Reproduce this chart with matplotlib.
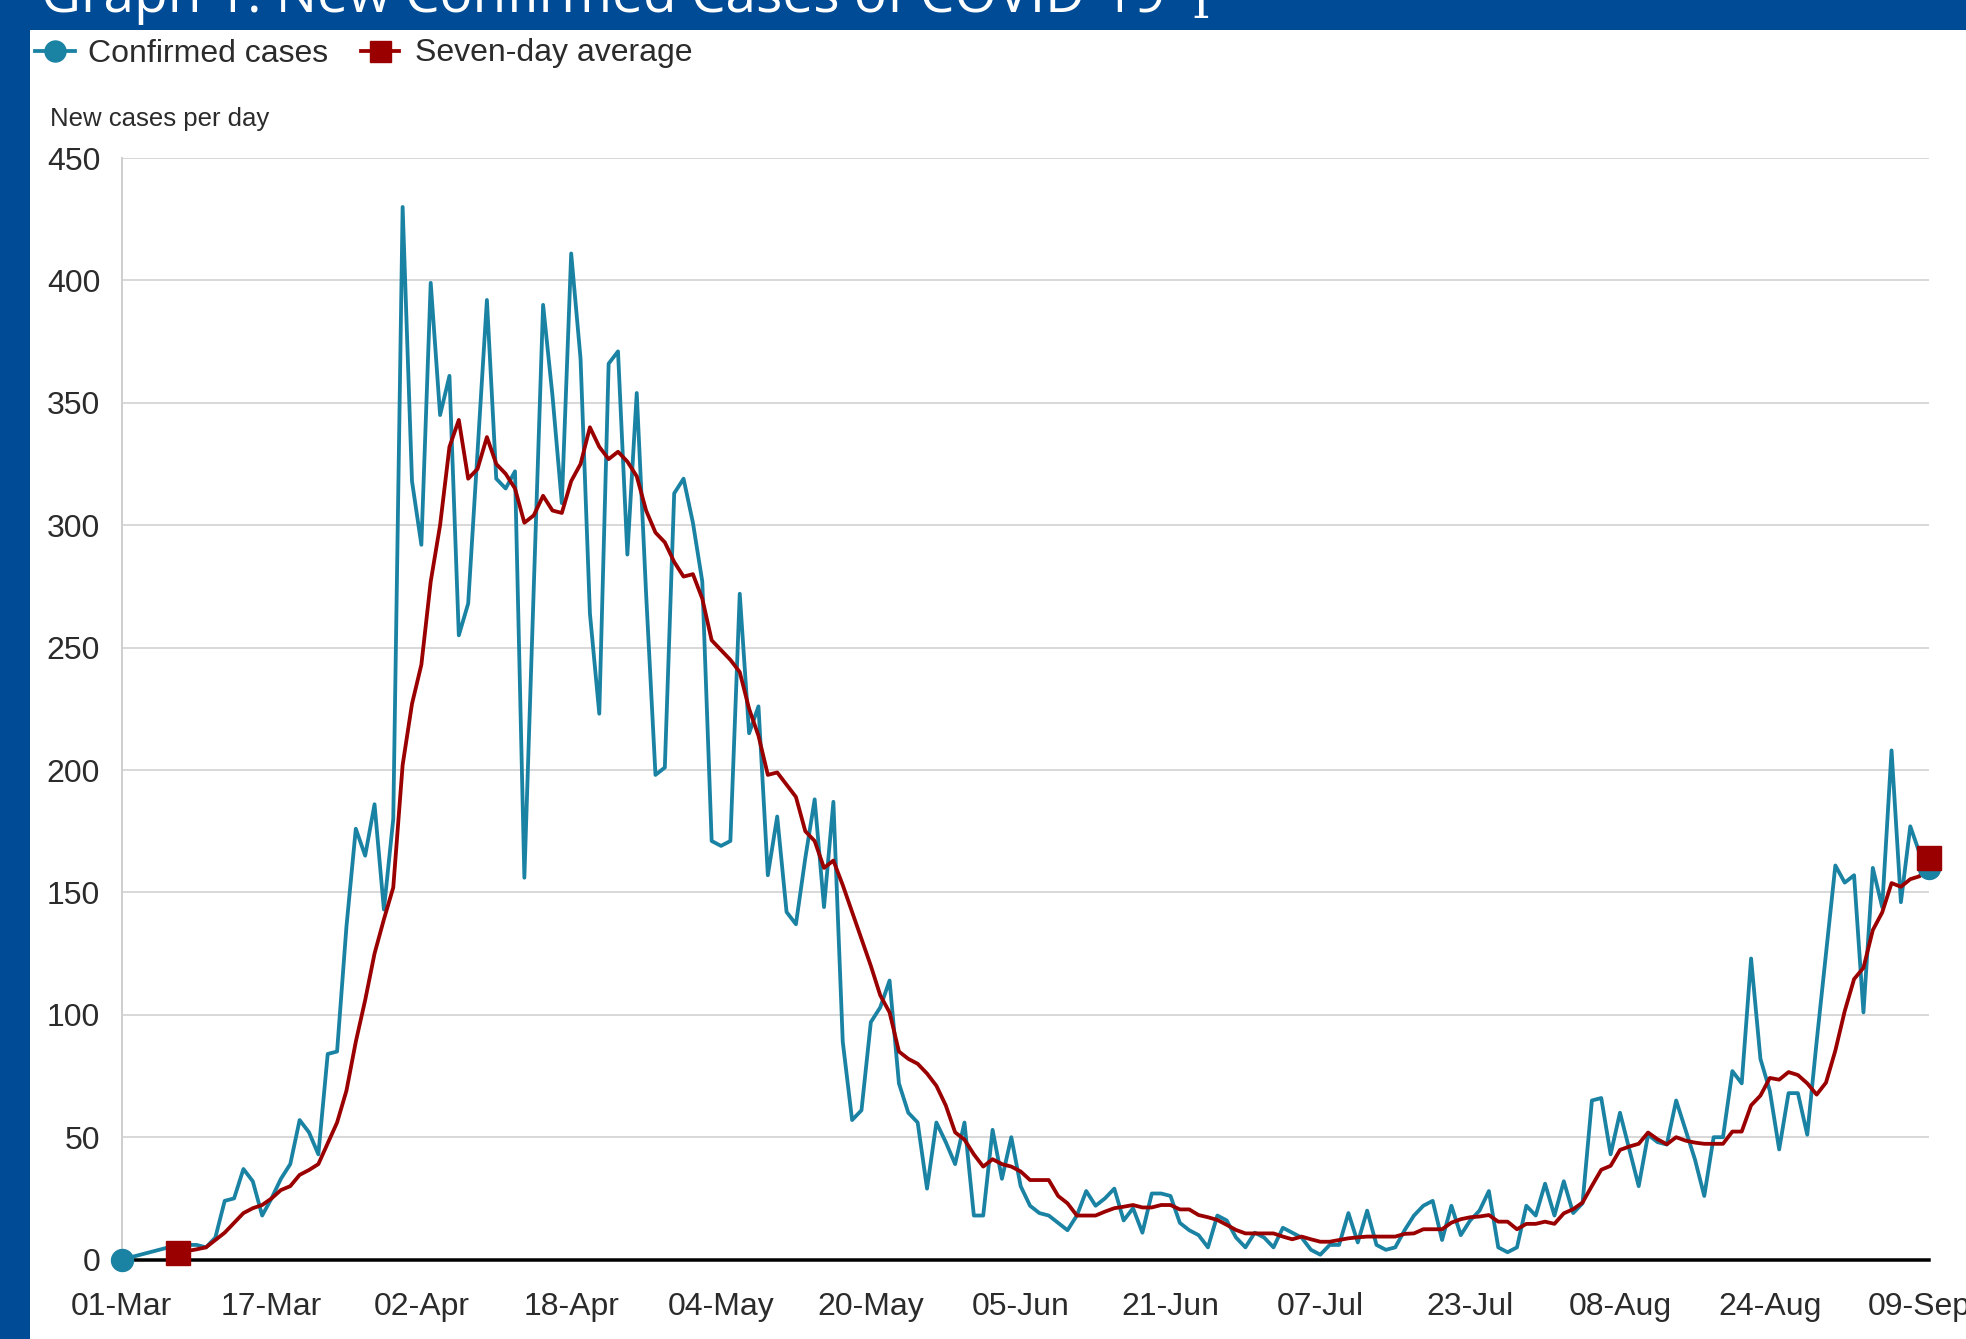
import matplotlib
matplotlib.use("Agg")
import matplotlib.pyplot as plt
import numpy as np
import pandas as pd
from matplotlib.lines import Line2D
from matplotlib.patches import Rectangle

# ---------------- data ----------------
start_date = "2020-03-01"
tick_labels = ["01-Mar", "17-Mar", "02-Apr", "18-Apr", "04-May", "20-May", "05-Jun",
               "21-Jun", "07-Jul", "23-Jul", "08-Aug", "24-Aug", "09-Sep"]

confirmed = [
    0, 1, 2, 3, 4, 5, 5, 6, 6, 5,
    9, 24, 25, 37, 32, 18, 25, 33, 39, 57,
    52, 43, 84, 85, 136, 176, 165, 186, 143, 180,
    430, 318, 292, 399, 345, 361, 255, 268, 330, 392,
    319, 315, 322, 156, 274, 390, 353, 309, 411, 368,
    264, 223, 366, 371, 288, 354, 272, 198, 201, 313,
    319, 301, 277, 171, 169, 171, 272, 215, 226, 157,
    181, 142, 137, 164, 188, 144, 187, 89, 57, 61,
    97, 103, 114, 72, 60, 56, 29, 56, 48, 39,
    56, 18, 18, 53, 33, 50, 30, 22, 19, 18,
    15, 12, 18, 28, 22, 25, 29, 16, 21, 11,
    27, 27, 26, 15, 12, 10, 5, 18, 16, 9,
    5, 11, 9, 5, 13, 11, 9, 4, 2, 6,
    6, 19, 7, 20, 6, 4, 5, 12, 18, 22,
    24, 8, 22, 10, 16, 20, 28, 5, 3, 5,
    22, 18, 31, 18, 32, 19, 23, 65, 66, 43,
    60, 45, 30, 51, 48, 47, 65, 53, 41, 26,
    50, 50, 77, 72, 123, 82, 69, 45, 68, 68,
    51, 89, 125, 161, 154, 157, 101, 160, 144, 208,
    146, 177, 166, 160,
]

seven_day_avg = [None] * 6 + [
    2.6, 3.5, 4.2, 5,
    8, 11, 15, 19, 21, 22.3, 25, 28.4, 30, 34.6,
    36.6, 39, 47.5, 56, 69, 89, 106, 125, 139, 152,
    202, 227, 243, 277, 300, 332, 343, 319, 323, 336,
    325, 321, 315, 301, 304, 312, 306, 305, 318, 325,
    340, 332, 327, 330, 326, 320, 306, 297, 293, 285,
    279, 280, 270, 253, 249, 245, 240, 225, 214, 198,
    199, 194, 189, 175, 171, 160, 163, 153, 142, 131,
    120, 108, 101, 85, 82, 80, 76, 71, 63, 52,
    49, 43, 38, 41, 39, 38, 36, 32.5, 32.5, 32.5,
    26, 23, 18, 18, 18, 19.6, 21, 21.6, 22.3, 21.3,
    21.3, 22.3, 22.3, 20.5, 20.5, 18.2, 17.3, 16.2, 14.2, 12.1,
    10.7, 10.7, 10.7, 10.7, 9.4, 8.3, 9.4, 8.3, 7.3, 7.3,
    8, 8.7, 9.1, 9.4, 9.4, 9.4, 9.4, 10.5, 10.7, 12.4,
    12.4, 12.4, 15.1, 16.5, 17.3, 17.6, 18.2, 15.5, 15.5, 12.4,
    14.6, 14.6, 15.5, 14.6, 18.9, 20.6, 23.3, 30.1, 36.7, 38.3,
    44.8, 46.2, 47.3, 51.9, 49.2, 47.1, 50, 48.6, 47.8, 47.3,
    47.3, 47.3, 52.3, 52.3, 63, 67, 74.2, 73.5, 76.6, 75.4,
    72, 67.4, 72.3, 85.4, 101.5, 114.6, 119.2, 134.6, 141.8, 153.8,
    152.3, 155.4, 156.6, 164,
]

title_text = "Graph 1: New Confirmed Cases of COVID-19"
legend_labels = ["Confirmed cases", "Seven-day average"]
y_label = "New cases per day"
y_ticks = [0, 50, 100, 150, 200, 250, 300, 350, 400, 450]

# ---------------- styling ----------------
W, H = 1966, 1339
DPI = 100
FRAME = "#004b96"
BLUE = "#1a82a3"
RED = "#9b0000"
GRID = "#d9d9d9"
TXT = "#2b2b2b"
FONT = "Liberation Sans"
LW = 3.8

def fx(px):
    return px / W

def fy(py):
    return 1 - py / H

def pt(px):
    return px * 72.0 / DPI

n = len(confirmed)
dates = pd.date_range(start_date, periods=n, freq="D")
x = np.arange(n)
labels_all = list(dates.strftime("%d-%b"))
tick_pos = [labels_all.index(t) for t in tick_labels]
avg = np.array([np.nan if v is None else v for v in seven_day_avg], dtype=float)

fig = plt.figure(figsize=(W / DPI, H / DPI), dpi=DPI, facecolor="white")

# blue frame (left bar + top bar)
fig.add_artist(Rectangle((0, 0), fx(30), 1, transform=fig.transFigure,
                         facecolor=FRAME, edgecolor="none", zorder=0))
fig.add_artist(Rectangle((0, fy(30)), 1, fy(0) - fy(30), transform=fig.transFigure,
                         facecolor=FRAME, edgecolor="none", zorder=0))

# title (partly cut off at the top), fit to measured width
title = fig.text(fx(41), fy(12), title_text, color="white", fontsize=34,
                 family="Open Sans", ha="left", va="baseline")
fig.canvas.draw()
r = fig.canvas.get_renderer()
wpx = title.get_window_extent(r).width
title.set_fontsize(34 * (1126.0 / wpx))
fig.text(fx(1201), fy(18), "I", color="white", fontsize=34, family="DejaVu Serif",
         ha="center", va="baseline")

# axes
x0_px, x1_px = 121.7, 1929.0
y0_px, y1_px = 1259.6, 158.0
ax = fig.add_axes([fx(x0_px), fy(y0_px), fx(x1_px) - fx(x0_px), fy(y1_px) - fy(y0_px)])
ax.set_facecolor("white")
ax.set_xlim(0, n - 1)
ax.set_ylim(0, 450)

for yv in y_ticks[1:]:
    ax.axhline(yv, color=GRID, lw=pt(2), zorder=1)

ax.plot(x, confirmed, color=BLUE, lw=pt(LW), zorder=3)
ax.plot(x, avg, color=RED, lw=pt(LW), zorder=4)

# end markers
ax.plot([x[0], x[-1]], [confirmed[0], confirmed[-1]], ls="none", marker="o",
        ms=pt(22), color=BLUE, mec=BLUE, zorder=5, clip_on=False)
first_avg = int(np.where(~np.isnan(avg))[0][0])
ax.plot([x[first_avg], x[-1]], [avg[first_avg], avg[-1]], ls="none", marker="s",
        ms=pt(24), color=RED, mec=RED, zorder=6, clip_on=False)

for s in ["top", "right"]:
    ax.spines[s].set_visible(False)
ax.spines["left"].set_color("#cfcfcf")
ax.spines["left"].set_linewidth(pt(2))
ax.spines["bottom"].set_color("black")
ax.spines["bottom"].set_linewidth(pt(3.5))
ax.spines["bottom"].set_zorder(2)

ax.set_yticks(y_ticks)
ax.set_yticklabels([str(v) for v in y_ticks], family=FONT, fontsize=23, color=TXT)
ax.set_xticks(tick_pos)
ax.set_xticklabels(tick_labels, family=FONT, fontsize=23, color=TXT)
ax.tick_params(axis="y", length=0, pad=15.5)
ax.tick_params(axis="x", length=0, pad=23)

fig.text(fx(50), fy(126), y_label, family=FONT, fontsize=18.5, color=TXT,
         ha="left", va="baseline")

# legend (hand-built to match layout)
ly = fy(51)
fig.add_artist(Line2D([fx(35), fx(75)], [ly, ly], color=BLUE, lw=pt(LW),
                      transform=fig.transFigure))
fig.add_artist(Line2D([fx(55)], [ly], color=BLUE, marker="o", ms=pt(21), ls="none",
                      transform=fig.transFigure))
fig.text(fx(88), fy(61.5), legend_labels[0], family=FONT, fontsize=23, color=TXT,
         ha="left", va="baseline")
fig.add_artist(Line2D([fx(361), fx(399)], [ly, ly], color=RED, lw=pt(LW),
                      transform=fig.transFigure))
fig.add_artist(Line2D([fx(380)], [ly], color=RED, marker="s", ms=pt(21), ls="none",
                      transform=fig.transFigure))
fig.text(fx(415), fy(61.5), legend_labels[1], family=FONT, fontsize=23, color=TXT,
         ha="left", va="baseline")

fig.savefig("out.png", dpi=DPI, facecolor="white")
